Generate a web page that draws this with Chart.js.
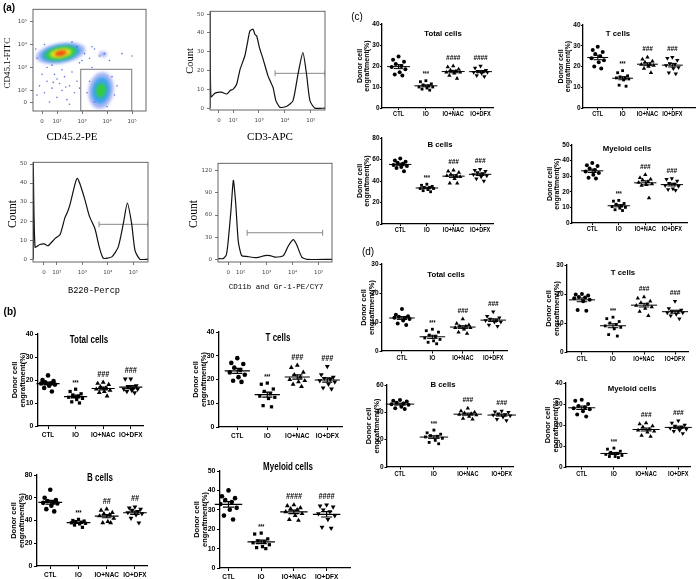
<!DOCTYPE html>
<html>
<head>
<meta charset="utf-8">
<script src="https://cdn.jsdelivr.net/npm/chart.js@4.4.1/dist/chart.umd.min.js"></script>
<style>
body { margin: 0; background: #fff; }
#fig { position: relative; width: 700px; height: 579px; overflow: hidden; background: #fff; }
canvas { position: absolute; }
.lbl { position: absolute; white-space: nowrap; line-height: 1; color: #000; }
</style>
</head>
<body>
<div id="fig"></div>
<script>
// ---- data ----
const groups = ['CTL', 'IO', 'IO+NAC', 'IO+DFX'];
const cellTitles = ['Total cells', 'T cells', 'B cells', 'Myeloid cells'];

// (b)  each: [CTL, IO, IO+NAC, IO+DFX]
const bTotal   = [[22, 20, 19.5, 19, 18.5, 18.5, 18, 17.5, 16.5, 15], [16, 15, 14, 13.5, 13, 12.5, 12, 11.5, 10.5, 10], [19, 18.5, 18, 17, 16.5, 16, 15.5, 15, 14.5, 13], [20.5, 20.5, 17.5, 17, 16.5, 16, 16, 15.5, 15, 14.5]];
const bTcells  = [[29, 27, 26.5, 25, 24, 23, 22, 21, 19.5, 19], [18.5, 18, 16, 15, 14, 13, 12.5, 12, 9, 8.5], [26, 25, 23, 22, 21, 20, 19.5, 19, 18, 17], [25.5, 22, 21, 20.5, 20, 19.5, 19, 18, 16.5, 16]];
const bBcells  = [[67, 60, 58, 57, 56, 55.5, 55, 53, 50, 48], [41, 40, 39.5, 39, 38.5, 38, 37.5, 37, 36, 34], [50, 49, 47, 46, 45, 44, 42, 39, 38, 38], [52, 51, 50, 49, 48, 47, 46, 45, 42, 38]];
const bMyeloid = [[40, 37, 36, 35, 34, 33, 31, 30, 27, 25], [18, 17.5, 15, 14, 13.5, 13, 12, 11, 10.5, 10], [32.5, 32, 31, 30.5, 30, 29, 28, 27, 25, 24.5], [32.5, 32, 31.5, 30, 29, 28, 27, 25, 21, 20.5]];
// (c)
const cTotal   = [[24.5, 23, 22, 21, 20, 19.5, 18.5, 17, 16, 15.5], [13, 12.5, 11.5, 11, 10.5, 10, 10, 9.5, 9, 8.5], [20, 19.5, 18.5, 18, 17.5, 17, 17, 16.5, 15.5, 14], [20, 19, 18, 17.5, 17.5, 17, 17, 16.5, 15.5, 15]];
const cTcells  = [[29.5, 28, 27, 26, 25, 24, 23, 22, 20, 19], [18, 17, 15.5, 15, 14.5, 14.5, 14, 13.5, 11, 10.5], [24.5, 23.5, 22.5, 22, 21, 21, 20.5, 20, 19, 17], [24.5, 24, 23, 21.5, 21, 20.5, 19.5, 19, 17, 16.5]];
const cBcells  = [[61, 59, 58, 57, 56, 55, 54, 53, 52, 49], [37, 36, 35, 34, 34, 33, 33, 32, 31, 30], [50, 49, 48, 46, 45, 45, 44, 42, 38, 38], [51, 50, 49, 48, 47, 46, 45, 44, 42, 40]];
const cMyeloid = [[38.5, 37, 36.5, 35, 34, 33, 32, 31, 29, 28.5], [14.5, 14, 12.5, 12, 11, 10.5, 10, 9.5, 8.5, 8], [31, 29, 28, 27.5, 26.5, 26, 25, 24.5, 24, 16], [28.5, 28, 27, 25.5, 25, 24, 23.5, 22, 21.5, 21]];
// (d)
const dTotal   = [[14.5, 12.5, 12, 11.8, 11.5, 11.5, 11, 10.5, 9.5, 9], [7.5, 7, 6.5, 5.5, 5, 4.5, 4, 3.5, 3, 2.5], [11, 9.5, 9, 8.5, 8.5, 8, 8, 7.5, 6.5, 6], [13.5, 12, 11.5, 11, 10.5, 10.5, 10, 10, 9, 8.5]];
const dTcells  = [[20, 19.8, 19.5, 19, 18.8, 18.5, 18, 17.5, 14.5, 14.2], [12, 11.5, 10.5, 10, 9.5, 9, 8.5, 8, 6, 5.5], [19, 18.5, 17.5, 17, 16.5, 16, 15.5, 15, 14, 12.5], [17.5, 15, 14.5, 14, 14, 13.5, 13.5, 13, 12.5, 11.5]];
const dBcells  = [[49, 48.5, 48, 47, 46.5, 46, 45.5, 44, 43, 42.5], [27, 25, 24, 23, 22.5, 22, 21, 19.5, 18, 17], [43, 41, 40, 39.5, 39, 38.5, 38, 37, 35.5, 35], [41, 40.5, 40, 39, 38.5, 38, 37.5, 36.5, 35, 34]];
const dMyeloid = [[32, 31.5, 30, 29, 28.5, 28, 27.5, 26.5, 25, 24], [9, 8.5, 7.5, 7, 6.5, 6, 5.5, 5, 5, 4.5], [21, 20.5, 19.5, 19, 18, 17.5, 17, 16.5, 15, 14.5], [22, 21, 20, 19.5, 19, 18.5, 18, 17.5, 17, 16]];

const bSig = [['', '***', '###', '###'], ['', '***', '###', '###'], ['', '***', '##', '##'], ['', '***', '####', '####']];
const cSig = [['', '***', '####', '####'], ['', '***', '###', '###'], ['', '***', '###', '###'], ['', '***', '###', '###']];
const dSig = [['', '***', '###', '###'], ['', '***', '###', '###'], ['', '***', '###', '###'], ['', '***', '###', '###']];

const bYTicks = [[0, 10, 20, 30, 40], [0, 10, 20, 30, 40], [0, 20, 40, 60, 80], [0, 10, 20, 30, 40, 50]];
const cYTicks = [[0, 10, 20, 30, 40], [0, 10, 20, 30, 40], [0, 20, 40, 60, 80], [0, 10, 20, 30, 40, 50]];
const dYTicks = [[0, 10, 20, 30], [0, 10, 20, 30], [0, 20, 40, 60], [0, 10, 20, 30, 40]];

// (a) flow cytometry, x in log decades ("0" sits a bit below 10^2)
const decadeLabels = ['0', '10\u00B2', '10\u00B3', '10\u2074', '10\u2075'];
const cd3Hist = [[1.12, 0], [1.12, 51.5], [1.15, 6], [1.31, 8], [1.55, 8.5], [1.76, 7.5], [1.9, 9.5], [2.0, 10], [2.14, 12.7], [2.27, 20.5], [2.46, 28], [2.56, 35], [2.65, 41], [2.77, 42], [2.85, 39], [2.91, 38.5], [3.02, 32], [3.15, 26.5], [3.35, 17], [3.54, 11], [3.65, 4], [3.81, 0.4], [4.07, 1], [4.31, 4], [4.5, 18], [4.69, 29.5], [4.83, 18], [4.96, 4], [5.15, 0], [5.54, 0]];
const cd3Gate = [3.62, 5.54, 18.5];
const b220Hist = [[1.07, 0], [1.07, 51], [1.14, 6.3], [1.33, 7.7], [1.5, 8], [1.65, 7], [1.92, 10.8], [2.12, 12.8], [2.31, 21.7], [2.42, 25], [2.51, 28.7], [2.71, 39.6], [2.8, 42.5], [2.9, 39.6], [3.1, 31], [3.27, 22.6], [3.49, 16], [3.66, 6.3], [3.82, 0.5], [4.15, 1.2], [4.4, 6.3], [4.6, 18.5], [4.76, 29.4], [4.93, 18.5], [5.06, 4.6], [5.25, 0], [5.57, 0]];
const b220Gate = [3.65, 5.57, 18.3];
const myeloidHist = [[1.14, 1], [1.33, 1], [1.45, 6], [1.52, 24], [1.63, 67], [1.72, 107], [1.81, 76], [1.91, 24], [2.04, 5], [2.23, 4], [2.62, 2.2], [2.93, 5], [3.13, 5], [3.32, 3], [3.64, 5], [3.83, 18], [4.02, 26.6], [4.15, 20], [4.35, 3], [4.54, 0], [5.51, 0]];
const myeloidGate = [2.25, 5.15, 36];
const cd45Gate = [2.95, 4.99, 2.92];
// density blobs: centre (x, y) and nested half-widths [rx, ry] from sparse to dense
const cd45Clusters = [
  { x: 2.15, y: 3.62, layers: [[1.0, 0.44], [0.8, 0.36], [0.64, 0.29], [0.44, 0.2], [0.24, 0.11]] },
  { x: 3.76, y: 2.0, layers: [[0.5, 0.8], [0.36, 0.58], [0.2, 0.32]] },
  { x: 3.84, y: 3.57, layers: [[0.16, 0.12]] }
];
const cd45Dots = [[1.3, 2.2], [1.5, 1.9], [1.6, 2.4], [1.8, 2.1], [1.9, 2.7], [2.0, 1.7], [2.1, 2.3], [2.2, 2.0], [2.3, 2.6], [2.4, 1.6], [2.5, 2.2], [2.6, 2.8], [2.7, 1.9], [2.8, 2.4], [1.4, 2.7], [1.7, 1.5], [2.9, 2.1], [2.2, 2.9], [1.6, 3.0], [2.5, 1.4], [1.2, 1.8], [2.0, 2.5], [2.35, 2.15], [1.85, 2.35],
  [3.1, 3.6], [3.3, 3.4], [3.5, 3.8], [3.7, 3.5], [3.9, 3.6], [4.1, 3.3], [3.4, 3.9], [3.0, 3.3], [4.6, 3.6], [5.0, 3.5],
  [1.2, 3.4], [1.15, 3.8], [1.5, 4.0], [2.6, 4.1], [2.9, 3.2], [1.8, 3.1], [2.8, 3.9],
  [3.3, 2.4], [3.5, 1.5], [4.2, 2.6], [4.3, 1.8], [3.4, 3.0], [4.0, 1.3], [3.2, 1.9], [4.4, 2.2]];

// ---- layout (pixels) ----
const fig = document.getElementById('fig');
const sans = "'Liberation Sans',Arial,sans-serif";
const serif = "'Liberation Serif','DejaVu Serif',serif";
const mono = "'Liberation Mono','DejaVu Sans Mono',monospace";
const CONDENSE = 0.8;   // the figure uses a narrow bold face

const dotLayout = {
  b: [{ L: 38.3, R: 143, top: 334.3, bot: 426.7, c0: 48.3, s: 27.5, tx: 89, ty: 339 },
      { L: 219, R: 342, top: 332.3, bot: 427.7, c0: 237.3, s: 30, tx: 278, ty: 337 },
      { L: 36.7, R: 147, top: 475, bot: 565.7, c0: 50, s: 28.3, tx: 100, ty: 477 },
      { L: 220, R: 350, top: 471, bot: 568.3, c0: 228.5, s: 32.7, tx: 288, ty: 466 }],
  c: [{ L: 381.7, R: 493, top: 24, bot: 108.3, c0: 398.3, s: 27.4, tx: 443, ty: 33 },
      { L: 583.3, R: 695, top: 25, bot: 108.3, c0: 598, s: 24.8, tx: 618, ty: 33 },
      { L: 381.7, R: 493, top: 137.7, bot: 223.3, c0: 400, s: 26.7, tx: 440, ty: 144 },
      { L: 571.7, R: 687, top: 145, bot: 223.3, c0: 592, s: 26.6, tx: 627, ty: 148 }],
  d: [{ L: 381.7, R: 507, top: 264, bot: 351, c0: 401.7, s: 30.5, tx: 446, ty: 274 },
      { L: 566.7, R: 688, top: 264.5, bot: 351, c0: 581.7, s: 31.1, tx: 623, ty: 272 },
      { L: 387, R: 513, top: 385, bot: 466.7, c0: 400, s: 33.9, tx: 443, ty: 384 },
      { L: 566, R: 690, top: 383.3, bot: 467.3, c0: 581.7, s: 32.2, tx: 632, ty: 388 }]
};
const panelStyle = {
  b: { tick: 8, ytick: 7, yt: 7.5, tl: 23, tickLen: 3, tpad: 1.5, title: 10, narrowTitle: true, r: 2.3, lw: 1.2 },
  c: { tick: 7, ytick: 6.5, yt: 7, tl: 22, tickLen: 2, tpad: 0.5, title: 7.8, narrowTitle: false, r: 2, lw: 1 },
  d: { tick: 7, ytick: 6.5, yt: 7.5, tl: 18, tickLen: 2.5, tpad: 1, title: 7.8, narrowTitle: false, r: 2, lw: 1 }
};

function addCanvas(left, top, w, h) {
  const c = document.createElement('canvas');
  c.width = w; c.height = h;
  c.style.left = left + 'px'; c.style.top = top + 'px';
  c.style.width = w + 'px'; c.style.height = h + 'px';
  fig.appendChild(c);
  return c;
}

function label(text, x, y, css, rotate, sx) {
  const d = document.createElement('div');
  d.className = 'lbl';
  d.textContent = text;
  d.style.cssText = 'left:' + x + 'px;top:' + y + 'px;transform:translate(-50%,-50%)' +
    (rotate ? ' rotate(-90deg)' : '') + (sx ? ' scaleX(' + sx + ')' : '') + ';' + css;
  fig.appendChild(d);
}

// ---- dot plots (b), (c), (d) ----
const W = 34, PT = 10, XH = 16, PR = 14;
const spread = [0, -0.2, 0.2, -0.1, 0.1, -0.25, 0.25, 0.04, -0.14, 0.14];

function dotPlot(lay, st, vals, sig, yTicks, title) {
  const cv = addCanvas(lay.L - W, lay.top - PT, Math.round(lay.R - lay.L + W + PR), Math.round(lay.bot - lay.top + PT + XH));
  const shapes = ['circle', 'rect', 'triangle', 'triangle'];
  const datasets = vals.map((g, gi) => ({
    data: g.map((v, j) => ({ x: gi + spread[j % spread.length], y: v })),
    showLine: false,
    pointStyle: shapes[gi],
    pointRotation: gi === 3 ? 180 : 0,
    pointRadius: gi >= 2 ? st.r + 0.5 : st.r,
    pointBackgroundColor: '#000',
    pointBorderColor: '#000',
    pointBorderWidth: 0
  }));

  const stats = {
    id: 'stats',
    afterDatasetsDraw(chart) {
      const { ctx, chartArea, scales: { x, y } } = chart;
      ctx.save();
      ctx.strokeStyle = '#000';
      ctx.fillStyle = '#000';
      ctx.lineWidth = st.lw;
      vals.forEach((g, gi) => {
        const n = g.length;
        const m = g.reduce((a, b) => a + b, 0) / n;
        const sd = Math.sqrt(g.reduce((a, b) => a + (b - m) * (b - m), 0) / (n - 1));
        const se = sd / Math.sqrt(n);
        const xc = x.getPixelForValue(gi);
        const hw = x.getPixelForValue(gi + 0.42) - xc;
        const ew = x.getPixelForValue(gi + 0.17) - xc;
        const ym = y.getPixelForValue(m), y1 = y.getPixelForValue(m + se), y2 = y.getPixelForValue(m - se);
        ctx.beginPath();
        ctx.moveTo(xc - hw, ym); ctx.lineTo(xc + hw, ym);
        ctx.moveTo(xc, y1); ctx.lineTo(xc, y2);
        ctx.moveTo(xc - ew, y1); ctx.lineTo(xc + ew, y1);
        ctx.moveTo(xc - ew, y2); ctx.lineTo(xc + ew, y2);
        ctx.stroke();
        if (sig[gi]) {
          const top = y.getPixelForValue(Math.max(...g));
          const star = sig[gi][0] === '*';
          ctx.save();
          ctx.translate(xc, top - (star ? 6 : 8));
          ctx.scale(CONDENSE, 1);
          ctx.font = star ? 'bold 6.5px ' + sans : 'italic bold ' + (st.tick + 1) + 'px ' + sans;
          ctx.textAlign = 'center';
          ctx.textBaseline = 'middle';
          ctx.fillText(sig[gi], 0, 0);
          ctx.restore();
        }
      });
      // group names under the axis, in a condensed bold face
      ctx.font = 'bold ' + st.tick + 'px ' + sans;
      ctx.textAlign = 'center';
      ctx.textBaseline = 'top';
      groups.forEach((g, gi) => {
        ctx.save();
        ctx.translate(x.getPixelForValue(gi), chartArea.bottom + st.tickLen + st.tpad + 0.5);
        ctx.scale(CONDENSE, 1);
        ctx.fillText(g, 0, 0);
        ctx.restore();
      });
      ctx.restore();
    }
  };

  new Chart(cv, {
    type: 'scatter',
    data: { datasets: datasets },
    options: {
      responsive: false,
      animation: false,
      layout: { padding: { top: PT, right: PR, left: 0, bottom: 0 } },
      plugins: { legend: { display: false }, tooltip: { enabled: false } },
      scales: {
        x: {
          type: 'linear',
          min: -(lay.c0 - lay.L) / lay.s,
          max: (lay.R - lay.c0) / lay.s,
          afterBuildTicks: s => { s.ticks = groups.map((g, i) => ({ value: i })); },
          afterFit: s => { s.height = XH; },
          border: { display: true, color: '#000', width: 1.3 },
          grid: { drawOnChartArea: false, drawTicks: true, tickLength: st.tickLen, tickColor: '#000', tickWidth: 1 },
          ticks: { display: false }
        },
        y: {
          type: 'linear',
          min: 0,
          max: yTicks[yTicks.length - 1],
          afterBuildTicks: s => { s.ticks = yTicks.map(v => ({ value: v })); },
          afterFit: s => { s.width = W; },
          border: { display: true, color: '#000', width: 1.3 },
          grid: { drawOnChartArea: false, drawTicks: true, tickLength: st.tickLen, tickColor: '#000', tickWidth: 1 },
          ticks: { autoSkip: false, padding: st.tpad, color: '#000', font: { family: sans, size: st.ytick, weight: 'bold' } },
          title: {
            display: true,
            text: ['Donor cell', 'engraftment(%)'],
            color: '#000',
            font: { family: sans, size: st.yt, weight: 'bold', lineHeight: 1 },
            padding: { top: W - st.tl - st.yt / 2, bottom: 0 }
          }
        }
      }
    },
    plugins: [stats]
  });
  label(title, lay.tx, lay.ty, 'font:bold ' + st.title + 'px ' + sans + ';', false, st.narrowTitle ? CONDENSE : 0);
}

const panelData = {
  b: [[bTotal, bSig[0], bYTicks[0]], [bTcells, bSig[1], bYTicks[1]], [bBcells, bSig[2], bYTicks[2]], [bMyeloid, bSig[3], bYTicks[3]]],
  c: [[cTotal, cSig[0], cYTicks[0]], [cTcells, cSig[1], cYTicks[1]], [cBcells, cSig[2], cYTicks[2]], [cMyeloid, cSig[3], cYTicks[3]]],
  d: [[dTotal, dSig[0], dYTicks[0]], [dTcells, dSig[1], dYTicks[1]], [dBcells, dSig[2], dYTicks[2]], [dMyeloid, dSig[3], dYTicks[3]]]
};
['b', 'c', 'd'].forEach(p => {
  panelData[p].forEach((pd, i) => dotPlot(dotLayout[p][i], panelStyle[p], pd[0], pd[1], pd[2], cellTitles[i]));
});

// ---- flow cytometry plots (a) ----
const FW = 26, FT = 4, FH = 18, FR = 6;
const frame = {
  id: 'frame',
  afterDraw(chart) {
    const { ctx, chartArea: a } = chart;
    ctx.save();
    ctx.strokeStyle = '#555';
    ctx.lineWidth = 0.9;
    ctx.strokeRect(a.left, a.top, a.right - a.left, a.bottom - a.top);
    ctx.restore();
  }
};

function flowChart(box, xa, ya, datasets, extra) {
  const cv = addCanvas(box.L - FW, box.T - FT, Math.round(box.R - box.L + FW + FR), Math.round(box.B - box.T + FT + FH));
  const axis = (a, horiz) => ({
    type: 'linear',
    min: a.min,
    max: a.max,
    afterBuildTicks: s => { s.ticks = a.ticks.map(v => ({ value: v })); },
    afterFit: s => { if (horiz) s.height = FH; else s.width = FW; },
    border: { display: false },
    grid: { drawOnChartArea: false, drawTicks: true, tickLength: 3, tickColor: '#555', tickWidth: 0.8 },
    ticks: { autoSkip: false, maxRotation: 0, padding: horiz ? 4 : 3, color: '#444',
             font: { family: "'DejaVu Sans',sans-serif", size: 5.5 },
             callback: (v, i) => a.labels[i] }
  });
  new Chart(cv, {
    type: 'scatter',
    data: { datasets: datasets },
    options: {
      responsive: false,
      animation: false,
      layout: { padding: { top: FT, right: FR, left: 0, bottom: 0 } },
      plugins: { legend: { display: false }, tooltip: { enabled: false } },
      scales: { x: axis(xa, true), y: axis(ya, false) }
    },
    plugins: [frame].concat(extra || [])
  });
}

function histSet(pts) {
  return { data: pts.map(p => ({ x: p[0], y: p[1] })), showLine: true, borderColor: '#111', borderWidth: 1.2,
           pointRadius: 0, tension: 0.2, fill: false };
}
function gateSet(g) {
  return { data: [{ x: g[0], y: g[2] }, { x: g[1], y: g[2] }], showLine: true, borderColor: '#888', borderWidth: 1,
           pointStyle: 'line', pointRotation: 90, pointRadius: 3, pointBorderColor: '#888', pointBorderWidth: 1 };
}

// a1: CD45.1 vs CD45.2 density plot
const densityColors = ['rgba(60,90,230,0.45)', 'rgba(40,160,235,0.85)', 'rgba(50,205,60,0.95)', 'rgba(240,225,30,0.95)', 'rgba(240,60,20,0.95)'];
const clusterTilt = [-0.17, 0.15, 0];
const density = {
  id: 'density',
  beforeDatasetsDraw(chart) {
    const { ctx, chartArea: a, scales: { x, y } } = chart;
    ctx.save();
    ctx.beginPath();
    ctx.rect(a.left, a.top, a.right - a.left, a.bottom - a.top);
    ctx.clip();
    ctx.filter = 'blur(1.4px)';
    cd45Clusters.forEach((c, ci) => {
      const cx = x.getPixelForValue(c.x), cy = y.getPixelForValue(c.y);
      c.layers.forEach((l, li) => {
        const rx = Math.abs(x.getPixelForValue(c.x + l[0]) - cx);
        const ry = Math.abs(y.getPixelForValue(c.y + l[1]) - cy);
        ctx.fillStyle = densityColors[li];
        ctx.beginPath();
        ctx.ellipse(cx, cy, rx, ry, clusterTilt[ci], 0, Math.PI * 2);
        ctx.fill();
      });
    });
    ctx.filter = 'none';
    // gate
    ctx.strokeStyle = '#777';
    ctx.lineWidth = 1;
    const gx0 = x.getPixelForValue(cd45Gate[0]), gx1 = x.getPixelForValue(cd45Gate[1]);
    const gy0 = y.getPixelForValue(cd45Gate[2]), gy1 = a.bottom;
    ctx.strokeRect(gx0, gy0, gx1 - gx0, gy1 - gy0);
    ctx.restore();
  }
};
flowChart({ L: 33, R: 146, T: 7, B: 111 },
  { min: 1.04, max: 5.56, ticks: [1.4, 2, 3, 4, 5], labels: decadeLabels },
  { min: 1.106, max: 5.53, ticks: [1.49, 2, 3, 4, 5], labels: decadeLabels },
  [{ data: cd45Dots.map(p => ({ x: p[0], y: p[1] })), showLine: false, pointRadius: 0.8, pointBorderWidth: 0,
     pointBackgroundColor: 'rgba(60,80,220,0.8)' }],
  [density]);

// a2: CD3
flowChart({ L: 210, R: 325, T: 9, B: 110 },
  { min: 1.115, max: 5.54, ticks: [1.46, 2, 3, 4, 5], labels: decadeLabels },
  { min: -1, max: 51.5, ticks: [0, 10, 20, 30, 40, 50], labels: ['0', '10', '20', '30', '40', '50'] },
  [histSet(cd3Hist), gateSet(cd3Gate)]);

// a3: B220
flowChart({ L: 33, R: 148, T: 160, B: 262 },
  { min: 1.06, max: 5.57, ticks: [1.49, 2, 3, 4, 5], labels: decadeLabels },
  { min: -1.5, max: 50.9, ticks: [0, 10, 20, 30, 40, 50], labels: ['0', '10', '20', '30', '40', '50'] },
  [histSet(b220Hist), gateSet(b220Gate)]);

// a4: CD11b / Gr-1
flowChart({ L: 218, R: 332, T: 160.7, B: 261.7 },
  { min: 1.13, max: 5.51, ticks: [1.52, 2, 3, 4, 5], labels: decadeLabels },
  { min: -3.6, max: 130, ticks: [0, 30, 60, 90, 120], labels: ['0', '30', '60', '90', '120'] },
  [histSet(myeloidHist), gateSet(myeloidGate)]);

// axis names of the flow plots
label('CD45.1-FITC', 7, 63, 'font:9px ' + serif + ';', true);
label('CD45.2-PE', 72, 136, 'font:11px ' + serif + ';');
label('Count', 189, 61, 'font:10.5px ' + serif + ';', true);
label('CD3-APC', 270, 136, 'font:11px ' + serif + ';');
label('Count', 12, 214, 'font:11.5px ' + serif + ';', true);
label('B220-Percp', 94, 291, 'font:8.7px ' + mono + ';');
label('Count', 193, 214, 'font:11.5px ' + serif + ';', true);
label('CD11b and Gr-1-PE/CY7', 276, 287, 'font:7.5px ' + mono + ';');

// panel letters
label('(a)', 9, 7, 'font:bold 10px ' + sans + ';');
label('(b)', 10, 311, 'font:bold 10px ' + sans + ';');
label('(c)', 357, 16, 'font:10px ' + sans + ';');
label('(d)', 368, 251, 'font:10px ' + sans + ';');
</script>
</body>
</html>
